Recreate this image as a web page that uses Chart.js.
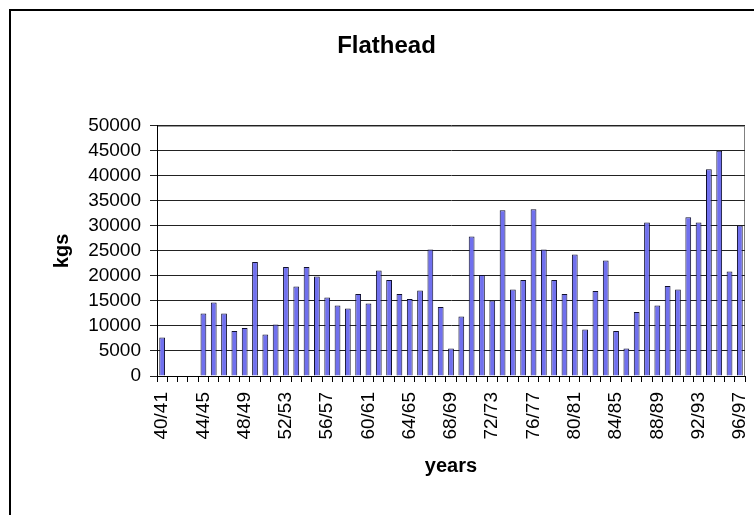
<!DOCTYPE html>
<html>
<head>
<meta charset="utf-8">
<title>Flathead</title>
<script src="https://cdn.jsdelivr.net/npm/chart.js@4.4.1/dist/chart.umd.min.js"></script>
<style>
  html, body { margin: 0; padding: 0; background: #fff; width: 754px; height: 515px; overflow: hidden; }
  #frame { position: absolute; left: 9px; top: 9px; width: 770px; height: 530px; border: 2px solid #000; box-sizing: border-box; }
  #chart { position: absolute; left: 11px; top: 11px; }
</style>
</head>
<body>
<div id="frame"></div>
<canvas id="chart" width="751" height="500"></canvas>
<script>
// Categories (seasons)
const years = [
    '40/41', '41/42', '42/43', '43/44', '44/45', '45/46', '46/47', '47/48',
    '48/49', '49/50', '50/51', '51/52', '52/53', '53/54', '54/55', '55/56',
    '56/57', '57/58', '58/59', '59/60', '60/61', '61/62', '62/63', '63/64',
    '64/65', '65/66', '66/67', '67/68', '68/69', '69/70', '70/71', '71/72',
    '72/73', '73/74', '74/75', '75/76', '76/77', '77/78', '78/79', '79/80',
    '80/81', '81/82', '82/83', '83/84', '84/85', '85/86', '86/87', '87/88',
    '88/89', '89/90', '90/91', '91/92', '92/93', '93/94', '94/95', '95/96',
    '96/97'
];

// Flathead catch in kgs
const catchKgs = [
    7700, 0, 0, 0, 12500, 14700, 12500, 9000,
    9600, 22800, 8300, 10300, 21800, 17900, 21800, 19900,
    15700, 14100, 13500, 16400, 14500, 21100, 19200, 16400,
    15400, 17100, 25300, 13800, 5500, 11900, 27900, 20200,
    15100, 33100, 17300, 19200, 33300, 25300, 19200, 16400,
    24300, 9300, 17000, 23100, 9000, 5500, 12800, 30700,
    14100, 18000, 17300, 31700, 30700, 41300, 45000, 20900,
    30100
];

// Only every fourth season gets a label
const labelEvery = 4;

// y axis range
const yMin = 0;
const yMax = 50000;
const yStep = 5000;

const FONT = "'Liberation Sans', Arial, sans-serif";

// Grey border round the plot area
const plotBorder = {
    id: 'plotBorder',
    beforeDraw(chart) {
        const { ctx, chartArea } = chart;
        ctx.save();
        ctx.strokeStyle = '#808080';
        ctx.lineWidth = 1;
        ctx.strokeRect(chartArea.left + 0.5, chartArea.top + 0.5,
            chartArea.right - chartArea.left - 1, chartArea.bottom - chartArea.top);
        ctx.restore();
    }
};

const ctx = document.getElementById('chart').getContext('2d');
new Chart(ctx, {
    type: 'bar',
    data: {
        labels: years,
        datasets: [{
            label: 'Flathead',
            data: catchKgs,
            backgroundColor: '#7070ee',
            borderColor: '#10102e',
            borderWidth: 1,
            borderSkipped: 'bottom',
            barPercentage: 0.56,
            categoryPercentage: 1.0
        }]
    },
    options: {
        responsive: false,
        animation: false,
        devicePixelRatio: 1,
        layout: { padding: 0 },
        plugins: {
            legend: { display: false },
            tooltip: { enabled: false },
            title: {
                display: true,
                text: 'Flathead',
                color: '#000',
                font: { family: FONT, size: 24, weight: 'bold' },
                padding: { top: 21, bottom: 65 }
            }
        },
        scales: {
            x: {
                offset: true,
                afterFit: function(scale) {
                    scale.height = 135;
                    scale.paddingLeft = 0;
                    scale.paddingRight = 17;
                },
                grid: {
                    offset: true,
                    drawOnChartArea: false,
                    drawTicks: true,
                    tickLength: 6,
                    color: '#000'
                },
                border: { display: true, color: '#000', width: 1 },
                ticks: {
                    autoSkip: false,
                    maxRotation: 90,
                    minRotation: 90,
                    padding: 10,
                    color: '#000',
                    font: { family: FONT, size: 19 },
                    callback: function(value, index) {
                        return index % labelEvery === 0 ? years[index] : '';
                    }
                },
                title: {
                    display: true,
                    text: 'years',
                    color: '#000',
                    font: { family: FONT, size: 20, weight: 'bold' },
                    padding: { top: 0, bottom: 33 }
                }
            },
            y: {
                min: yMin,
                max: yMax,
                afterFit: function(scale) { scale.width = 146; },
                grid: {
                    color: '#222',
                    lineWidth: 1,
                    tickLength: 7
                },
                border: { display: true, color: '#000', width: 1 },
                ticks: {
                    stepSize: yStep,
                    autoSkip: false,
                    padding: 9,
                    color: '#000',
                    font: { family: FONT, size: 19 },
                    callback: function(value) {
                        return String(value);
                    }
                },
                title: {
                    display: true,
                    text: 'kgs',
                    color: '#000',
                    font: { family: FONT, size: 20, weight: 'bold' },
                    padding: { top: 39, bottom: 0 }
                }
            }
        }
    },
    plugins: [plotBorder]
});
</script>
</body>
</html>
